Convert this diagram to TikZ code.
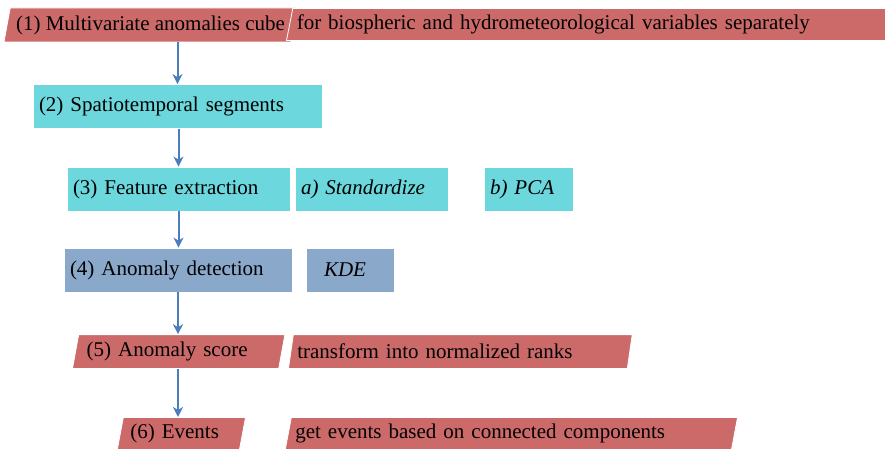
\documentclass[tikz,border=0pt]{standalone}
\usepackage{fontspec}
\setmainfont{Liberation Serif}
\usetikzlibrary{positioning,shapes.geometric,arrows.meta}
\definecolor{slabred}{RGB}{204,106,106}
\definecolor{segcyan}{RGB}{108,215,221}
\definecolor{detgrey}{RGB}{138,168,202}
\definecolor{flowblue}{RGB}{74,126,187}

\begin{document}
\begin{tikzpicture}[x=1pt,y=1pt,
  font=\fontsize{21}{25}\selectfont,
  slab/.style={trapezium,trapezium left angle=72,trapezium right angle=108,
    trapezium stretches body,fill=slabred,draw=white,line width=.8pt,
    inner xsep=4pt,inner ysep=0pt,minimum height=33pt},
  box/.style={rectangle,fill=#1,draw=white,line width=.8pt,
    minimum height=44pt,inner xsep=6pt,align=left},
  flow/.style={-{Stealth[length=10pt,width=10pt,inset=3pt]},
    line width=2pt,flowblue}]
\useasboundingbox (0,0) rectangle (885,448);
\clip (0,0) rectangle (885,448);
% Step 1, split in two slabs
\node[slab,minimum width=293pt,minimum height=34pt] (cube) at (150.5,423)
  {(1) Multivariate anomalies cube};
\node[slab,minimum height=32pt,text width=600pt,align=left,
  anchor=bottom left corner] (cubenote) at (286,407)
  {for biospheric and hydrometeorological variables separately};
% Steps 2 to 4, plain boxes
\node[box=segcyan,text width=277pt] (segments) at (177.5,341.5)
  {(2) Spatiotemporal segments};
\node[box=segcyan,text width=211pt] (features) at (178.5,259)
  {(3) Feature extraction};
\node[box=segcyan,text width=141pt] (std) at (371.5,259)
  {\textit{a) Standardize}};
\node[box=segcyan,text width=77pt] (pca) at (528.5,259)
  {\textit{b) PCA}};
\node[box=detgrey,text width=216pt] (detect) at (178,178)
  {(4) Anomaly detection};
\node[box=detgrey,text width=52pt,inner xsep=18pt] (kde) at (350,178)
  {\textit{KDE}};
% Steps 5 and 6
\node[slab,minimum height=34pt,text width=184pt,inner xsep=8pt,align=left,
  anchor=bottom left corner] (score) at (72,79) {(5) Anomaly score};
\node[slab,minimum height=34pt,text width=326pt,align=left,
  anchor=bottom left corner] (ranks) at (288,79)
  {transform into normalized ranks};
\node[slab,text width=102pt,inner xsep=7pt,align=left,
  anchor=top left corner] (events) at (123,31) {(6) Events};
\node[slab,text width=432pt,align=left,anchor=top left corner] (evnote)
  at (291,31) {get events based on connected components};
% Arrows down the chain
\draw[flow] (cube.south -| segments.north) -- (segments.north);
\draw[flow] (segments.south -| features.north) -- (features.north);
\draw[flow] (features.south) -- (features.south |- detect.north);
\draw[flow] (detect.south) -- (detect.south |- score.north);
\draw[flow] (detect.south |- score.south) -- (detect.south |- events.north);
\end{tikzpicture}
\end{document}
